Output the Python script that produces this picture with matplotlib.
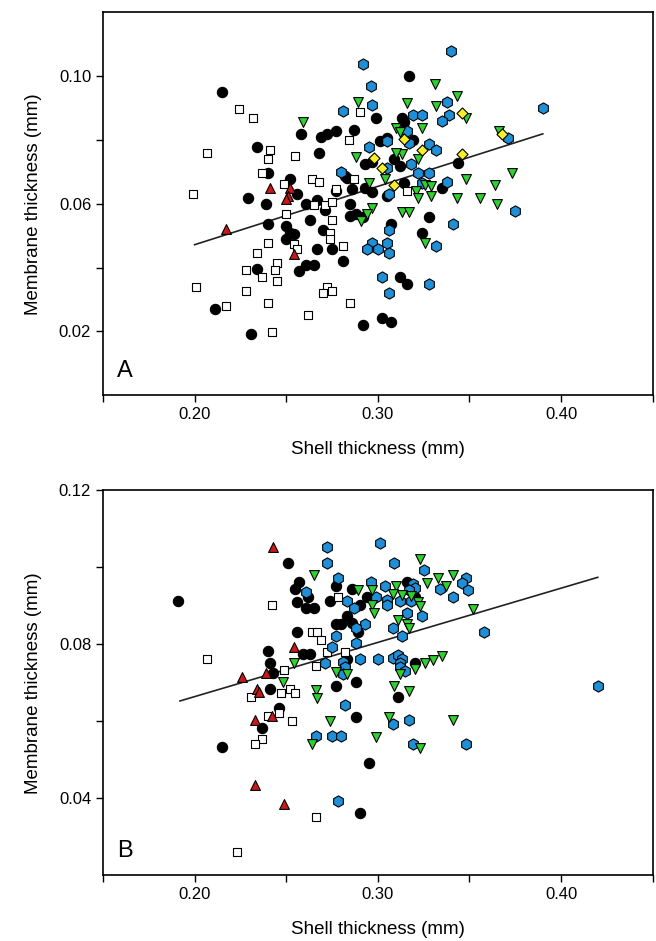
import matplotlib
matplotlib.use('Agg')
import matplotlib.pyplot as plt
import numpy as np

plt.rcParams['font.family'] = ['Liberation Sans', 'DejaVu Sans']

# ---- panel A: shell thickness (x) vs membrane thickness (y), mm ----
a_black_x = [0.215, 0.258, 0.269, 0.272, 0.277, 0.287, 0.299, 0.234, 0.240, 0.252,
             0.268, 0.293, 0.297, 0.301, 0.305, 0.286, 0.293, 0.297, 0.229, 0.256,
             0.267, 0.317, 0.313, 0.314, 0.319, 0.309, 0.312, 0.282, 0.283, 0.344,
             0.314, 0.335, 0.305, 0.307, 0.328, 0.324, 0.312, 0.316, 0.302, 0.307,
             0.292, 0.239, 0.261, 0.271, 0.285, 0.285, 0.288, 0.292, 0.240, 0.250,
             0.263, 0.252, 0.254, 0.250, 0.270, 0.267, 0.275, 0.281, 0.261, 0.265,
             0.257, 0.234, 0.211, 0.231, 0.277]
a_black_y = [0.0950, 0.0819, 0.0809, 0.0819, 0.0828, 0.0831, 0.0869, 0.0778, 0.0697, 0.0678,
             0.0759, 0.0725, 0.0731, 0.0797, 0.0806, 0.0647, 0.0650, 0.0638, 0.0619, 0.0631,
             0.0613, 0.1000, 0.0869, 0.0856, 0.0800, 0.0741, 0.0719, 0.0688, 0.0681, 0.0728,
             0.0666, 0.0650, 0.0625, 0.0538, 0.0559, 0.0509, 0.0369, 0.0347, 0.0241, 0.0228,
             0.0219, 0.0600, 0.0600, 0.0581, 0.0600, 0.0563, 0.0569, 0.0559, 0.0538, 0.0531,
             0.0550, 0.0509, 0.0506, 0.0491, 0.0519, 0.0459, 0.0459, 0.0419, 0.0409, 0.0409,
             0.0388, 0.0394, 0.0269, 0.0191, 0.0641]

a_square_x = [0.224, 0.232, 0.207, 0.241, 0.240, 0.237, 0.255, 0.199, 0.249, 0.264,
              0.268, 0.277, 0.287, 0.284, 0.290, 0.250, 0.265, 0.271, 0.275, 0.275,
              0.274, 0.274, 0.281, 0.254, 0.256, 0.240, 0.234, 0.245, 0.244, 0.245,
              0.237, 0.228, 0.201, 0.228, 0.217, 0.240, 0.242, 0.262, 0.272, 0.270,
              0.275, 0.285, 0.316]
a_square_y = [0.0897, 0.0869, 0.0759, 0.0769, 0.0741, 0.0697, 0.0750, 0.0631, 0.0663, 0.0678,
              0.0669, 0.0647, 0.0678, 0.0800, 0.0888, 0.0569, 0.0597, 0.0597, 0.0606, 0.0550,
              0.0509, 0.0491, 0.0469, 0.0475, 0.0459, 0.0478, 0.0447, 0.0413, 0.0391, 0.0359,
              0.0369, 0.0391, 0.0338, 0.0328, 0.0278, 0.0288, 0.0197, 0.0250, 0.0338, 0.0319,
              0.0325, 0.0288, 0.0641]

a_red_x = [0.241, 0.252, 0.251, 0.250, 0.217, 0.254]
a_red_y = [0.0650, 0.0650, 0.0625, 0.0616, 0.0522, 0.0441]

a_blue_x = [0.292, 0.340, 0.296, 0.297, 0.281, 0.295, 0.280, 0.305, 0.338, 0.339,
            0.335, 0.319, 0.324, 0.316, 0.328, 0.332, 0.317, 0.318, 0.322, 0.328,
            0.338, 0.324, 0.371, 0.390, 0.306, 0.305, 0.306, 0.297, 0.294, 0.300,
            0.305, 0.306, 0.341, 0.332, 0.375, 0.302, 0.306, 0.328]
a_blue_y = [0.1038, 0.1078, 0.0969, 0.0909, 0.0891, 0.0778, 0.0700, 0.0797, 0.0919, 0.0878,
            0.0859, 0.0878, 0.0878, 0.0828, 0.0788, 0.0769, 0.0791, 0.0725, 0.0697, 0.0697,
            0.0669, 0.0666, 0.0806, 0.0900, 0.0631, 0.0713, 0.0519, 0.0478, 0.0459, 0.0459,
            0.0478, 0.0447, 0.0538, 0.0469, 0.0578, 0.0369, 0.0319, 0.0347]

a_green_x = [0.289, 0.259, 0.288, 0.295, 0.304, 0.331, 0.343, 0.316, 0.332, 0.348,
             0.310, 0.312, 0.324, 0.366, 0.313, 0.310, 0.322, 0.348, 0.373, 0.364,
             0.326, 0.329, 0.321, 0.322, 0.343, 0.356, 0.329, 0.365, 0.297, 0.294,
             0.291, 0.313, 0.317, 0.326]
a_green_y = [0.0919, 0.0856, 0.0747, 0.0666, 0.0678, 0.0975, 0.0938, 0.0916, 0.0906, 0.0869,
             0.0838, 0.0825, 0.0838, 0.0828, 0.0756, 0.0759, 0.0741, 0.0678, 0.0697, 0.0659,
             0.0659, 0.0656, 0.0641, 0.0619, 0.0619, 0.0619, 0.0625, 0.0600, 0.0588, 0.0569,
             0.0547, 0.0575, 0.0575, 0.0478]

a_yellow_x = [0.346, 0.309, 0.324, 0.346, 0.314, 0.298, 0.302, 0.368]
a_yellow_y = [0.0884, 0.0659, 0.0769, 0.0756, 0.0803, 0.0744, 0.0713, 0.0819]

a_fit = (0.1828, 0.0106)   # slope, intercept
a_fit_x = [0.200, 0.390]

# ---- panel B ----
b_black_x = [0.191, 0.251, 0.257, 0.255, 0.262, 0.256, 0.261, 0.265, 0.274, 0.277,
             0.286, 0.294, 0.290, 0.283, 0.286, 0.277, 0.280, 0.289, 0.256, 0.240,
             0.241, 0.259, 0.263, 0.283, 0.243, 0.241, 0.316, 0.320, 0.320, 0.277,
             0.288, 0.311, 0.246, 0.237, 0.215, 0.288, 0.295, 0.290]
b_black_y = [0.0912, 0.1010, 0.0961, 0.0943, 0.0922, 0.0909, 0.0894, 0.0894, 0.0912, 0.0951,
             0.0943, 0.0922, 0.0901, 0.0873, 0.0855, 0.0852, 0.0852, 0.0831, 0.0831, 0.0782,
             0.0751, 0.0774, 0.0774, 0.0761, 0.0725, 0.0683, 0.0961, 0.0922, 0.0751, 0.0691,
             0.0701, 0.0662, 0.0634, 0.0582, 0.0532, 0.0611, 0.0491, 0.0361]

b_square_x = [0.242, 0.278, 0.264, 0.267, 0.269, 0.207, 0.272, 0.282, 0.266, 0.249,
              0.231, 0.247, 0.252, 0.255, 0.246, 0.240, 0.253, 0.237, 0.233, 0.266,
              0.223]
b_square_y = [0.0901, 0.0922, 0.0831, 0.0831, 0.0810, 0.0761, 0.0779, 0.0779, 0.0743, 0.0732,
              0.0662, 0.0673, 0.0683, 0.0673, 0.0621, 0.0613, 0.0600, 0.0553, 0.0542, 0.0350,
              0.0260]

b_red_x = [0.243, 0.254, 0.226, 0.239, 0.234, 0.235, 0.242, 0.233, 0.233, 0.249]
b_red_y = [0.1052, 0.0792, 0.0714, 0.0725, 0.0683, 0.0675, 0.0613, 0.0603, 0.0434, 0.0384]

b_blue_x = [0.272, 0.272, 0.301, 0.309, 0.278, 0.261, 0.296, 0.304, 0.299, 0.283,
            0.305, 0.305, 0.287, 0.293, 0.288, 0.288, 0.277, 0.275, 0.271, 0.290,
            0.300, 0.281, 0.282, 0.281, 0.319, 0.320, 0.312, 0.318, 0.317, 0.316,
            0.308, 0.313, 0.308, 0.311, 0.313, 0.312, 0.312, 0.315, 0.325, 0.348,
            0.346, 0.349, 0.334, 0.341, 0.324, 0.358, 0.282, 0.308, 0.317, 0.266,
            0.275, 0.280, 0.319, 0.348, 0.420, 0.278]
b_blue_y = [0.1052, 0.1010, 0.1062, 0.1010, 0.0971, 0.0935, 0.0961, 0.0951, 0.0922, 0.0912,
            0.0914, 0.0901, 0.0894, 0.0852, 0.0842, 0.0803, 0.0821, 0.0792, 0.0751, 0.0761,
            0.0761, 0.0753, 0.0740, 0.0722, 0.0956, 0.0946, 0.0912, 0.0912, 0.0940, 0.0881,
            0.0842, 0.0821, 0.0764, 0.0771, 0.0761, 0.0751, 0.0740, 0.0730, 0.0992, 0.0971,
            0.0958, 0.0940, 0.0943, 0.0922, 0.0873, 0.0831, 0.0642, 0.0592, 0.0603, 0.0561,
            0.0561, 0.0561, 0.0542, 0.0542, 0.0691, 0.0392]

b_green_x = [0.265, 0.289, 0.297, 0.297, 0.298, 0.254, 0.277, 0.283, 0.310, 0.308,
             0.313, 0.318, 0.311, 0.316, 0.317, 0.323, 0.333, 0.341, 0.337, 0.327,
             0.322, 0.323, 0.352, 0.326, 0.330, 0.335, 0.312, 0.320, 0.248, 0.266,
             0.267, 0.309, 0.317, 0.274, 0.306, 0.341, 0.264, 0.299, 0.323]
b_green_y = [0.0979, 0.0940, 0.0940, 0.0901, 0.0881, 0.0751, 0.0727, 0.0722, 0.0951, 0.0930,
             0.0927, 0.0925, 0.0862, 0.0852, 0.0842, 0.1021, 0.0971, 0.0979, 0.0951, 0.0958,
             0.0909, 0.0899, 0.0891, 0.0751, 0.0759, 0.0769, 0.0722, 0.0735, 0.0701, 0.0681,
             0.0660, 0.0691, 0.0678, 0.0600, 0.0611, 0.0603, 0.0540, 0.0559, 0.0530]

b_fit = (0.1409, 0.0382)
b_fit_x = [0.192, 0.420]

x_ticks = [0.20, 0.30, 0.40]
x_minor = [0.15, 0.25, 0.35, 0.45]
x_labels = ['0.20', '0.30', '0.40']

BLACK = '#000000'
RED = '#c81818'
BLUE = '#1f8fd8'
GREEN = '#2ed12e'
YELLOW = '#f5f02a'


def draw_series(ax, groups):
    for xs, ys, marker, color, size in groups:
        ax.scatter(xs, ys, marker=marker, s=size, c=color, edgecolors='black',
                   linewidths=0.8, zorder=3)


def style_axis(ax, ylim, yticks, yminor, ylabels, letter):
    ax.set_xlim(0.15, 0.45)
    ax.set_ylim(*ylim)
    ax.set_xticks(x_ticks)
    ax.set_xticklabels(x_labels)
    ax.set_xticks(x_minor, minor=True)
    ax.set_yticks(yticks)
    ax.set_yticklabels(ylabels)
    ax.set_yticks(yminor, minor=True)
    ax.tick_params(which='both', direction='out', length=5, width=1, labelsize=12,
                   top=False, right=False)
    for sp in ax.spines.values():
        sp.set_linewidth(1.2)
    ax.set_xlabel('Shell thickness (mm)', fontsize=13.5, labelpad=14)
    ax.set_ylabel('Membrane thickness (mm)', fontsize=13.5, labelpad=12)
    ax.text(0.025, 0.035, letter, transform=ax.transAxes, fontsize=17, ha='left', va='bottom')


fig = plt.figure(figsize=(6.56, 9.41), dpi=100)

axA = fig.add_axes([0.157, 0.580, 0.838, 0.407])
xx = np.array(a_fit_x)
axA.plot(xx, a_fit[0] * xx + a_fit[1], color='#222222', lw=1.2, zorder=2)
draw_series(axA, [
    (a_black_x, a_black_y, 'o', BLACK, 55),
    (a_square_x, a_square_y, 's', 'white', 40),
    (a_red_x, a_red_y, '^', RED, 50),
    (a_blue_x, a_blue_y, 'h', BLUE, 65),
    (a_green_x, a_green_y, 'v', GREEN, 50),
    (a_yellow_x, a_yellow_y, 'D', YELLOW, 32),
])
style_axis(axA, (0.0, 0.12), [0.02, 0.06, 0.10], [0.04, 0.08], ['0.02', '0.06', '0.10'], 'A')

axB = fig.add_axes([0.157, 0.070, 0.838, 0.409])
xx = np.array(b_fit_x)
axB.plot(xx, b_fit[0] * xx + b_fit[1], color='#222222', lw=1.2, zorder=2)
draw_series(axB, [
    (b_black_x, b_black_y, 'o', BLACK, 55),
    (b_square_x, b_square_y, 's', 'white', 40),
    (b_red_x, b_red_y, '^', RED, 50),
    (b_blue_x, b_blue_y, 'h', BLUE, 65),
    (b_green_x, b_green_y, 'v', GREEN, 50),
])
style_axis(axB, (0.02, 0.12), [0.04, 0.08, 0.12], [0.06, 0.10], ['0.04', '0.08', '0.12'], 'B')

fig.savefig('out.png', dpi=100)
